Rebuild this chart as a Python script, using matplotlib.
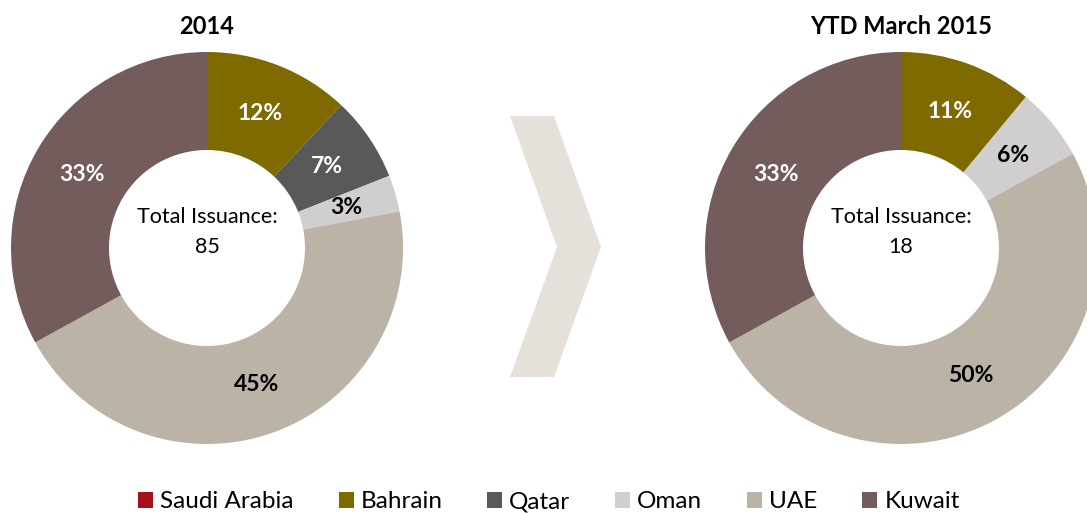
import matplotlib
matplotlib.use("Agg")
import matplotlib.pyplot as plt
from matplotlib.patches import Polygon, Patch

plt.rcParams['font.family'] = ['Lato', 'DejaVu Sans']

countries = ["Saudi Arabia", "Bahrain", "Qatar", "Oman", "UAE", "Kuwait"]
colors = ["#A3121A", "#7F6A00", "#595959", "#D0CECE", "#BBB3A6", "#735C5B"]
label_colors = ["white", "white", "white", "black", "black", "white"]

share_2014 = [0, 12, 7, 3, 45, 33]
share_2015 = [0, 11, 0, 6, 50, 33]
total_2014 = 85
total_2015 = 18
titles = ["2014", "YTD March 2015"]

W, H = 1087, 513
fig = plt.figure(figsize=(W / 100, H / 100), dpi=100)


def donut(cx, cy, r, shares, title, total):
    ax = fig.add_axes([(cx - r) / W, (H - cy - r) / H, 2 * r / W, 2 * r / H])
    vals = [v for v in shares if v > 0]
    cols = [c for v, c in zip(shares, colors) if v > 0]
    lcols = [c for v, c in zip(shares, label_colors) if v > 0]
    wedges, texts, autotexts = ax.pie(
        vals, colors=cols, startangle=90, counterclock=False, radius=1,
        wedgeprops=dict(width=0.5, linewidth=0),
        autopct=lambda p: "%d%%" % round(p), pctdistance=0.74,
        textprops=dict(fontsize=16.5, fontweight="bold"))
    for t, c in zip(autotexts, lcols):
        t.set_color(c)
    ax.set_xlim(-1, 1)
    ax.set_ylim(-1, 1)
    ax.set_aspect("equal")
    ax.text(0, 0.16, "Total Issuance:", ha="center", va="center", fontsize=15.5)
    ax.text(0, 0.005, str(total), ha="center", va="center", fontsize=15.5)
    fig.text(cx / W, 1 - 27 / H, title, ha="center", va="center",
             fontsize=17, fontweight="bold")


donut(207, 248, 196, share_2014, titles[0], total_2014)
donut(901, 248, 196, share_2015, titles[1], total_2015)

# chevron arrow between the two donuts
pts = [(510, 116), (554, 116), (601, 247), (554, 377), (510, 377), (557, 247)]
chev = Polygon([(x / W, 1 - y / H) for x, y in pts], closed=True,
               facecolor="#E6E0DA", edgecolor="none", transform=fig.transFigure)
fig.add_artist(chev)

handles = [Patch(facecolor=c, edgecolor="none") for c in colors]
fig.legend(handles, countries, loc="center", bbox_to_anchor=(0.505, 1 - 502 / H),
           ncol=6, frameon=False, fontsize=17.5, handlelength=0.62, handleheight=0.62,
           handletextpad=0.28, columnspacing=1.85, borderpad=0, borderaxespad=0)

fig.savefig("out.png", dpi=100)
